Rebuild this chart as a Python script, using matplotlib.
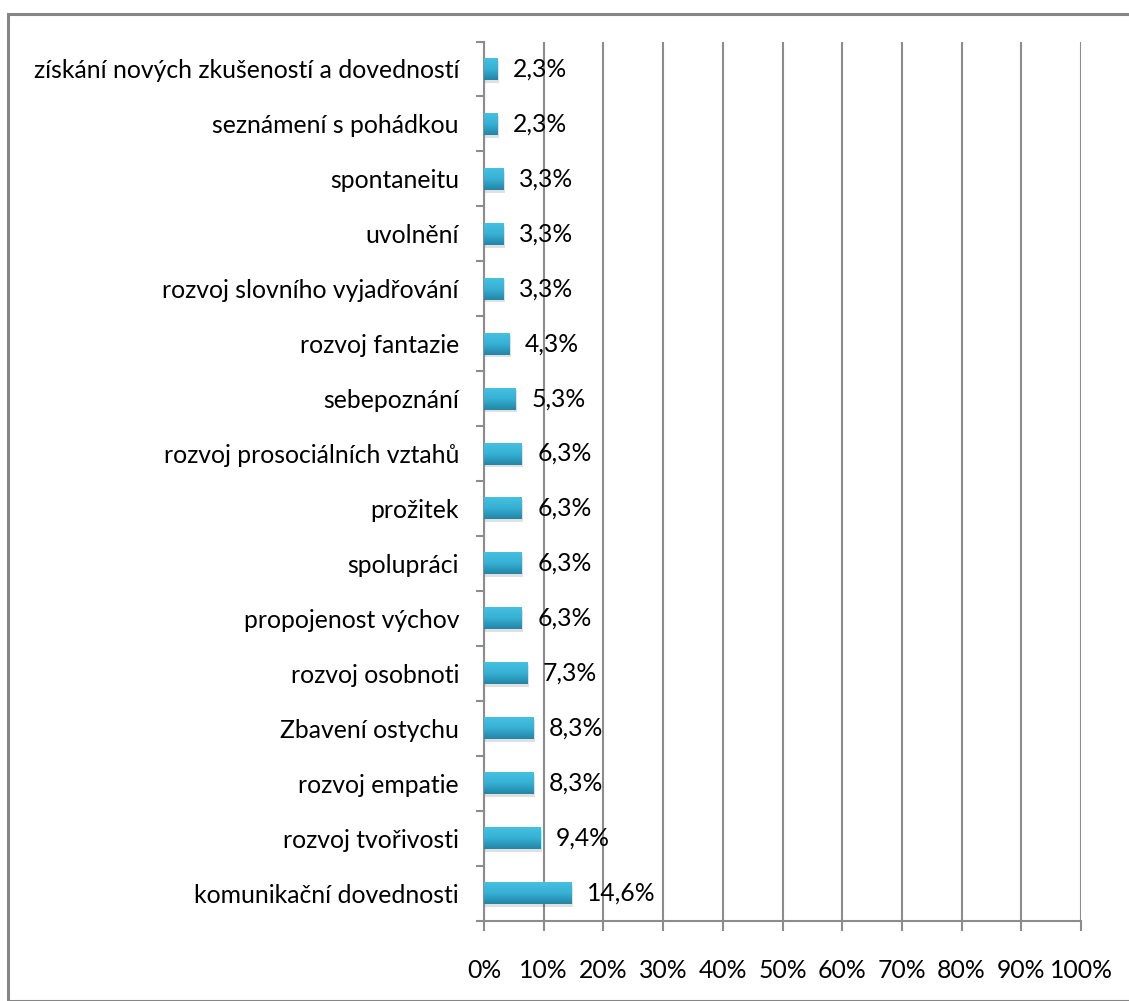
import matplotlib.pyplot as plt
import numpy as np
from matplotlib.patches import Rectangle
from matplotlib.ticker import FuncFormatter

plt.rcParams['font.family'] = ['Lato', 'DejaVu Sans']

categories = ["komunikační dovednosti", "rozvoj tvořivosti", "rozvoj empatie",
              "Zbavení ostychu", "rozvoj osobnoti", "propojenost výchov",
              "spolupráci", "prožitek", "rozvoj prosociálních vztahů",
              "sebepoznání", "rozvoj fantazie", "rozvoj slovního vyjadřování",
              "uvolnění", "spontaneitu", "seznámení s pohádkou",
              "získání nových zkušeností a dovedností"]
values = [14.6, 9.4, 8.3, 8.3, 7.3, 6.3, 6.3, 6.3, 6.3, 5.3, 4.3, 3.3, 3.3, 3.3, 2.3, 2.3]
value_labels = ["14,6%", "9,4%", "8,3%", "8,3%", "7,3%", "6,3%", "6,3%", "6,3%", "6,3%",
                "5,3%", "4,3%", "3,3%", "3,3%", "3,3%", "2,3%", "2,3%"]

W, H = 1129, 1001
fig = plt.figure(figsize=(W / 100, H / 100), dpi=100)
ax = fig.add_axes([484 / W, 1 - 920.5 / H, (1081 - 484) / W, (920.5 - 41.5) / H])

# outer chart border
fig.patches.append(Rectangle((7.5 / W, 0), 1.2, 1 - 13.5 / H, transform=fig.transFigure,
                             fill=False, edgecolor='#868686', linewidth=2.2))

y = np.arange(len(categories))
bh = 0.4
grey = '#8c8c8c'
fs = 17.8
cmap = plt.matplotlib.colors.LinearSegmentedColormap.from_list(
    'b', ['#2385a6', '#36b0d4', '#45c0e0'])

for i, v in enumerate(values):
    # soft shadow
    ax.barh(y[i] - 0.05, v, height=bh, left=0.25, color='#000000', alpha=0.12, zorder=2)
    # gradient bar
    grad = np.linspace(0, 1, 50).reshape(-1, 1)
    ax.imshow(grad, extent=(0, v, y[i] - bh / 2, y[i] + bh / 2), aspect='auto',
              cmap=cmap, origin='lower', zorder=3)
    ax.text(v + 2.6, y[i], value_labels[i], va='center', ha='left', fontsize=fs, zorder=4)

ax.set_xlim(0, 100)
ax.set_ylim(-0.5, len(categories) - 0.5)
ax.set_xticks(np.arange(0, 101, 10))
ax.xaxis.set_major_formatter(FuncFormatter(lambda x, p: f"{int(x)}%"))
ax.set_yticks(y)
ax.set_yticklabels(categories, fontsize=fs)
ax.set_yticks(np.arange(-0.5, len(categories), 1), minor=True)
ax.tick_params(axis='y', which='major', length=0, pad=18)
ax.tick_params(axis='y', which='minor', length=6, color=grey, width=1.5)
ax.tick_params(axis='x', length=7, color=grey, width=1.5, pad=21, labelsize=fs)

ax.grid(axis='x', color=grey, linewidth=1.5, zorder=0)
ax.set_axisbelow(True)
for s in ['top', 'right']:
    ax.spines[s].set_visible(False)
for s in ['left', 'bottom']:
    ax.spines[s].set_color(grey)
    ax.spines[s].set_linewidth(1.5)

fig.savefig('out.png', dpi=100)
